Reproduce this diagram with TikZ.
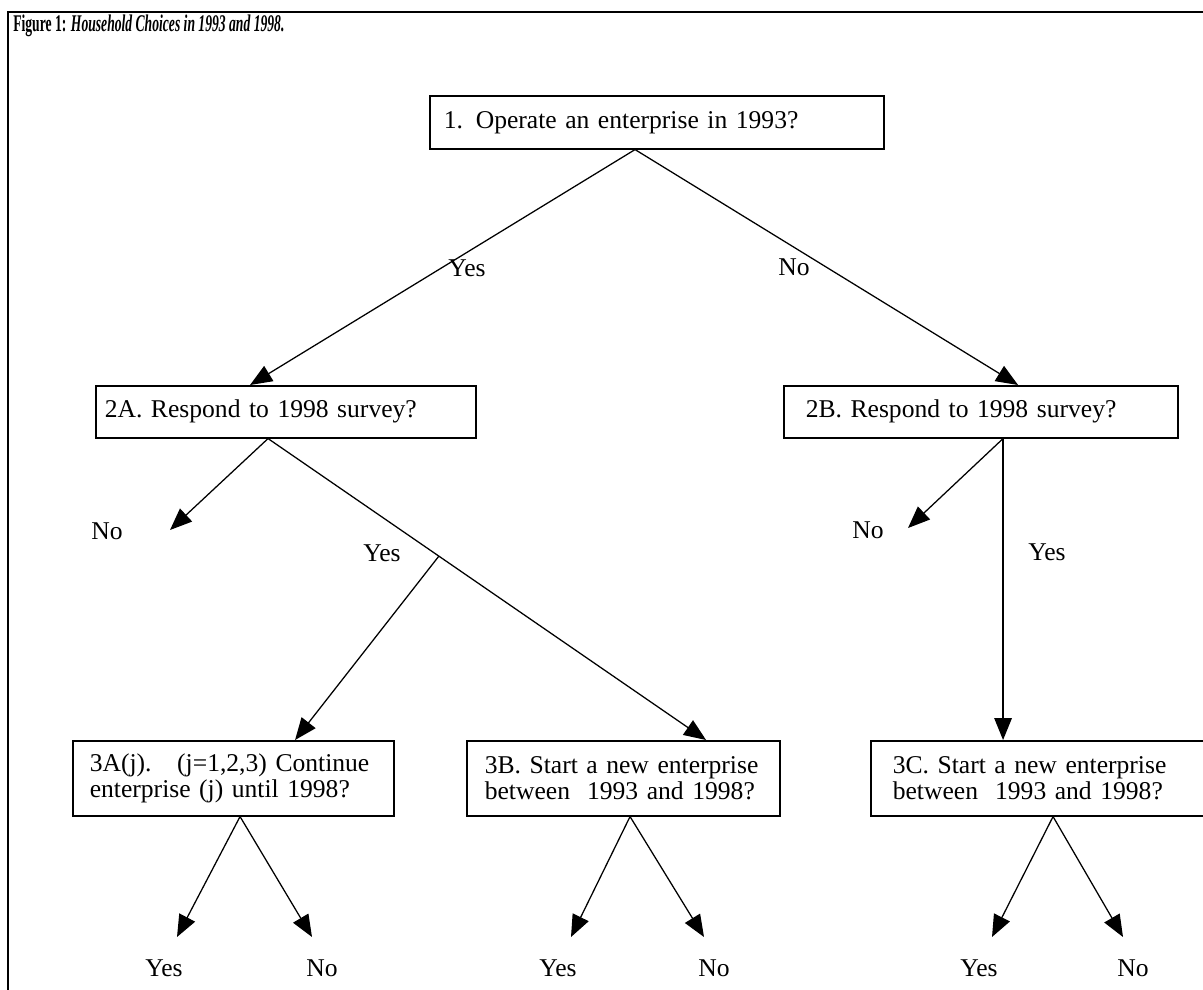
\documentclass[tikz,border=0pt]{standalone}
\usepackage{fontspec}
\setmainfont{Liberation Serif}
\usetikzlibrary{arrows.meta,calc}

\tikzset{
	qbox/.style={draw, line width=1.1pt, anchor=north west, align=left, inner ysep=2pt, font=\fontsize{18.2}{18.8}\selectfont},
	tip/.style={-{Triangle[length=0.55cm,width=0.44cm]}, line width=0.9pt},
	lbl/.style={font=\fontsize{18.2}{18.8}\selectfont, inner sep=0pt}
}

\begin{document}
\begin{tikzpicture}[x=0.025cm,y=-0.025cm]
	\useasboundingbox (0,0) rectangle (1203,989);
	% Frame and title
	\draw[line width=1pt] (8,1000) -- (8,12) -- (1210,12);
	\node[anchor=base west, inner sep=0pt, font=\fontsize{17}{19}\selectfont\bfseries] (title) at (13,31) {\scalebox{0.57}[1]{Figure 1: \textit{Household Choices in 1993 and 1998.}}};
	
	% Question boxes
	\node[qbox, text width=10.65cm, inner xsep=0.35cm, minimum height=1.325cm] (q1) at (429,95) {1. Operate an enterprise in 1993?};
	\node[qbox, text width=9.05cm, inner xsep=0.225cm, minimum height=1.3cm] (q2a) at (95,385) {2A. Respond to 1998 survey?};
	\node[qbox, text width=8.75cm, inner xsep=0.55cm, minimum height=1.3cm] (q2b) at (783,385) {2B. Respond to 1998 survey?};
	\node[qbox, text width=7.175cm, inner xsep=0.425cm, minimum height=1.875cm] (q3a) at (72,740) {3A(j).\ \ \ (j=1,2,3) Continue\\enterprise (j) until 1998?};
	\node[qbox, text width=6.925cm, inner xsep=0.45cm, minimum height=1.875cm] (q3b) at (466,740) {3B. Start a new enterprise\\between\ \ 1993 and 1998?};
	\node[qbox, text width=7.4cm, inner xsep=0.55cm, minimum height=1.875cm] (q3c) at (870,740) {3C. Start a new enterprise\\between\ \ 1993 and 1998?};
	
	% Branch points on the boxes
	\coordinate (j1) at ([xshift=5.15cm]q1.south west);
	\coordinate (j2a) at ([xshift=4.325cm]q2a.south west);
	\coordinate (j2b) at ([xshift=5.5cm]q2b.south west);
	\coordinate (j3a) at ([xshift=4.2cm]q3a.south west);
	\coordinate (j3b) at ([xshift=4.1cm]q3b.south west);
	\coordinate (j3c) at ([xshift=4.575cm]q3c.south west);
	
	% Arrow ends on the boxes
	\coordinate (t2a) at ([xshift=3.875cm]q2a.north west);
	\coordinate (t2b) at ([xshift=5.875cm]q2b.north west);
	\coordinate (t3a) at ([xshift=5.575cm]q3a.north west);
	\coordinate (t3b) at ([xshift=6cm]q3b.north west);
	\coordinate (t3c) at (j2b |- q3c.north);
	
	% Free arrow ends
	\coordinate (n2a) at (170,530);
	\coordinate (n2b) at (908,528);
	\coordinate (s2a) at ($(j2a)!0.39!(t3b)$);
	
	% Level 1 to level 2
	\draw[tip] (j1) -- (t2a);
	\draw[tip] (j1) -- (t2b);
	\node[lbl] (yes1) at (467,268) {Yes};
	\node[lbl] (no1) at (794,267) {No};
	
	% Level 2 to level 3
	\draw[tip] (j2a) -- (n2a);
	\draw[tip] (j2a) -- (t3b);
	\draw[tip] (s2a) -- (t3a);
	\draw[tip] (j2b) -- (n2b);
	\draw[tip] (j2b) -- (t3c);
	\node[lbl] (no2a) at (107,531) {No};
	\node[lbl] (yes2a) at (382,553) {Yes};
	\node[lbl] (no2b) at (868,530) {No};
	\node[lbl] (yes2b) at (1047,552) {Yes};
	
	% Final choices
	\foreach \j/\ya/\na in {3a/177/312, 3b/571/704, 3c/992/1123} {
		\coordinate (y\j) at (\ya,937);
		\coordinate (n\j) at (\na,937);
		\draw[tip] (j\j) -- (y\j);
		\draw[tip] (j\j) -- (n\j);
		\node[lbl] (yl\j) at (\ya-13,968) {Yes};
		\node[lbl] (nl\j) at (\na+10,968) {No};
	}
\end{tikzpicture}
\end{document}
